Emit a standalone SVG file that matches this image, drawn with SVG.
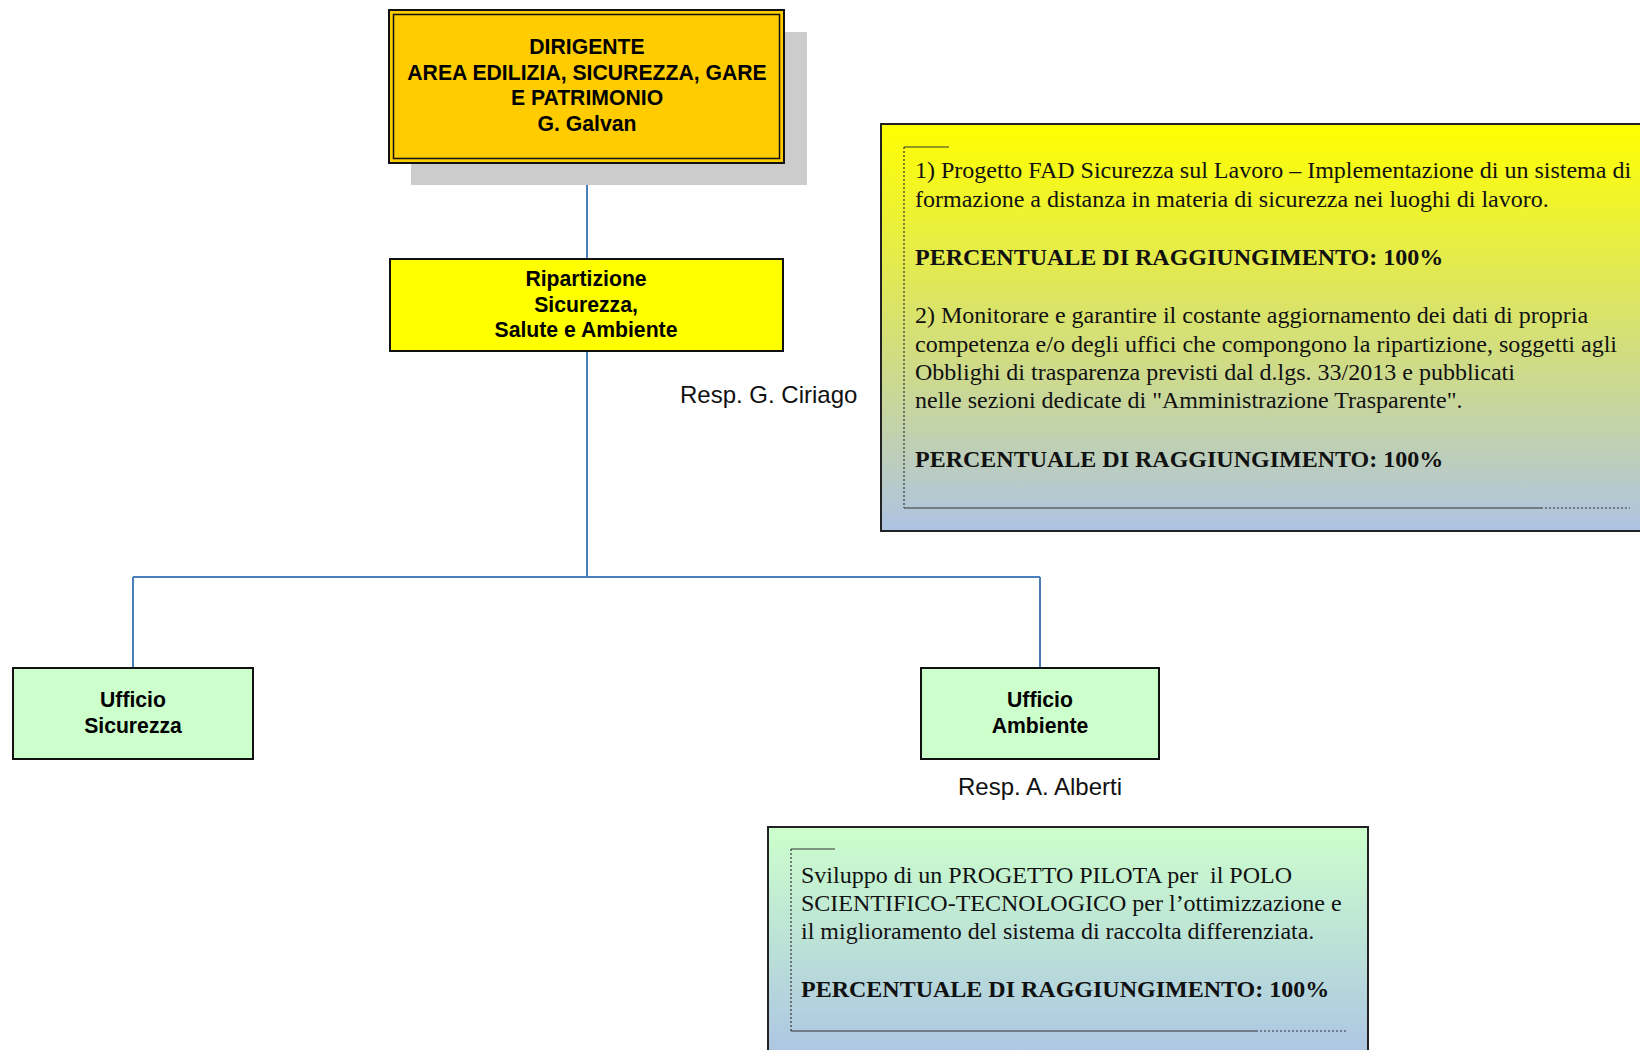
<svg xmlns="http://www.w3.org/2000/svg" width="1640" height="1050" viewBox="0 0 1640 1050">
<defs>
<linearGradient id="gy" x1="0" y1="0" x2="0" y2="1">
<stop offset="0" stop-color="#ffff00"/>
<stop offset="1" stop-color="#aec3e4"/>
</linearGradient>
<linearGradient id="gg" x1="0" y1="0" x2="0" y2="1">
<stop offset="0" stop-color="#ccffcc"/>
<stop offset="1" stop-color="#abc2e4"/>
</linearGradient>
<style>
.box{stroke:#111;stroke-width:2}
.t{font-family:"Liberation Sans",Arial,sans-serif;font-weight:bold;font-size:21.2px;fill:#000;text-anchor:middle}
.r{font-family:"Liberation Sans",Arial,sans-serif;font-size:24px;fill:#111}
.s{font-family:"Liberation Serif","Times New Roman",serif;font-size:24px;fill:#111}
.sb{font-weight:bold}
.conn{stroke:#4a7ebb;stroke-width:2;fill:none}
.frame{stroke:#333;stroke-width:1.2;fill:none}
.dot{stroke:#333;stroke-width:1.2;stroke-dasharray:2 2;fill:none}
</style>
</defs>
<g id="connectors">
<path class="conn" d="M587 163 V259 M587 351 V577 M133 577 H1040 M133 577 V667 M1040 577 V667"/>
</g>
<g id="dirigente">
<rect x="411" y="32" width="396" height="153" fill="#cccccc"/>
<rect x="389" y="10" width="395" height="153" fill="#ffcc00" stroke="#111" stroke-width="2"/>
<rect x="393.5" y="14.5" width="386" height="144" fill="none" stroke="#111" stroke-width="1.5"/>
<text class="t" x="587" y="54">DIRIGENTE</text>
<text class="t" x="587" y="79.5">AREA EDILIZIA, SICUREZZA, GARE</text>
<text class="t" x="587" y="105">E PATRIMONIO</text>
<text class="t" x="587" y="130.5">G. Galvan</text>
</g>
<g id="ripartizione">
<rect class="box" x="390" y="259" width="393" height="92" fill="#ffff00"/>
<text class="t" x="586" y="286">Ripartizione</text>
<text class="t" x="586" y="312">Sicurezza,</text>
<text class="t" x="586" y="337">Salute e Ambiente</text>
<text class="r" x="680" y="403">Resp. G. Ciriago</text>
</g>
<g id="obiettivi-ripartizione">
<rect x="881" y="124" width="770" height="407" fill="url(#gy)" stroke="#222" stroke-width="2"/>
<path class="frame" d="M904 147 H949"/>
<path class="dot" d="M904 147 V508"/>
<path class="frame" d="M904 508 H1541"/>
<path class="dot" d="M1541 508 H1630"/>
<text class="s" x="915" y="178">1) Progetto FAD Sicurezza sul Lavoro – Implementazione di un sistema di</text>
<text class="s" x="915" y="207">formazione a distanza in materia di sicurezza nei luoghi di lavoro.</text>
<text class="s sb" x="915" y="265">PERCENTUALE DI RAGGIUNGIMENTO: 100%</text>
<text class="s" x="915" y="323">2) Monitorare e garantire il costante aggiornamento dei dati di propria</text>
<text class="s" x="915" y="352">competenza e/o degli uffici che compongono la ripartizione, soggetti agli</text>
<text class="s" x="915" y="380">Obblighi di trasparenza previsti dal d.lgs. 33/2013 e pubblicati</text>
<text class="s" x="915" y="408">nelle sezioni dedicate di "Amministrazione Trasparente".</text>
<text class="s sb" x="915" y="467">PERCENTUALE DI RAGGIUNGIMENTO: 100%</text>
</g>
<g id="ufficio-sicurezza">
<rect class="box" x="13" y="668" width="240" height="91" fill="#ccffcc"/>
<text class="t" x="133" y="707">Ufficio</text>
<text class="t" x="133" y="733">Sicurezza</text>
</g>
<g id="ufficio-ambiente">
<rect class="box" x="921" y="668" width="238" height="91" fill="#ccffcc"/>
<text class="t" x="1040" y="707">Ufficio</text>
<text class="t" x="1040" y="733">Ambiente</text>
<text class="r" x="1040" y="795" text-anchor="middle">Resp. A. Alberti</text>
</g>
<g id="obiettivi-ambiente">
<rect x="768" y="827" width="600" height="240" fill="url(#gg)" stroke="#222" stroke-width="2"/>
<path class="frame" d="M791 849 H835"/>
<path class="dot" d="M791 849 V1031"/>
<path class="frame" d="M791 1031 H1256"/>
<path class="dot" d="M1256 1031 H1346"/>
<text class="s" x="801" y="883" xml:space="preserve" style="white-space:pre">Sviluppo di un PROGETTO PILOTA per  il POLO</text>
<text class="s" x="801" y="911">SCIENTIFICO-TECNOLOGICO per l’ottimizzazione e</text>
<text class="s" x="801" y="939">il miglioramento del sistema di raccolta differenziata.</text>
<text class="s sb" x="801" y="997">PERCENTUALE DI RAGGIUNGIMENTO: 100%</text>
</g>
</svg>
